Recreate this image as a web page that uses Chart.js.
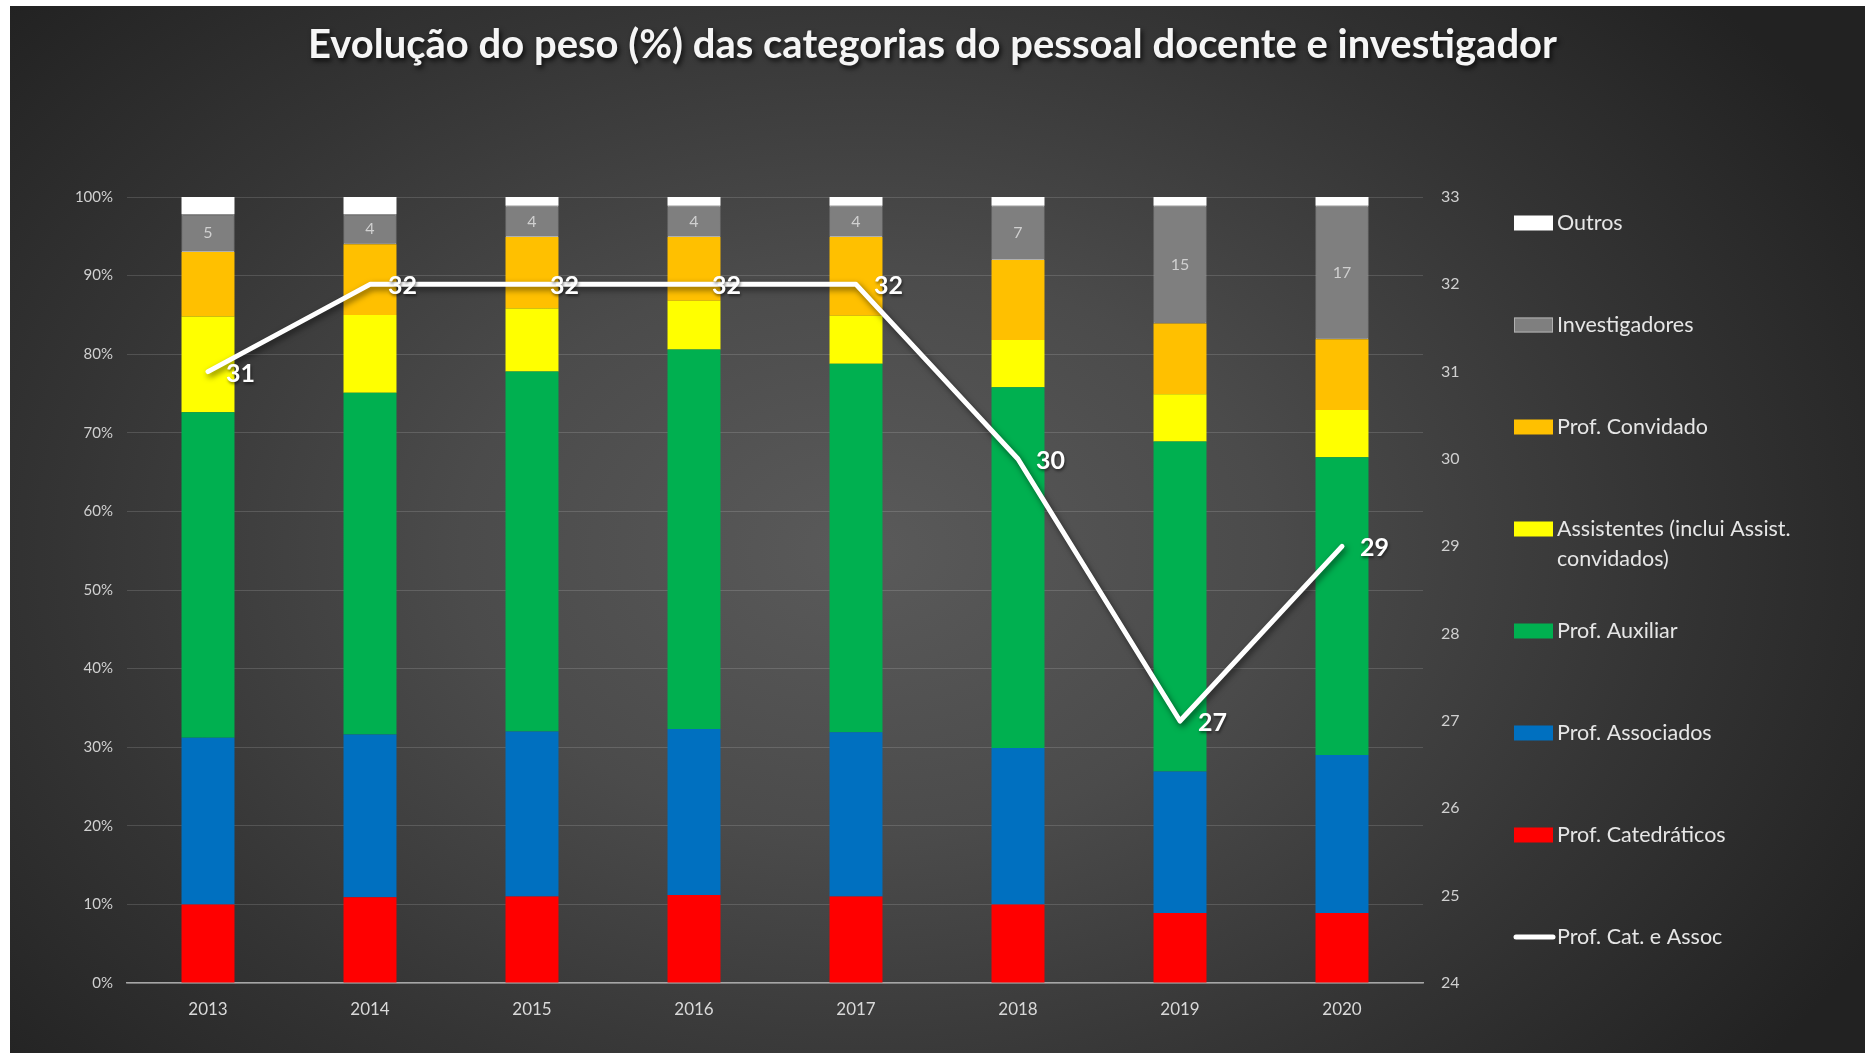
<!DOCTYPE html>
<html>
<head>
<meta charset="utf-8">
<script src="https://cdn.jsdelivr.net/npm/chart.js@4.4.1/dist/chart.umd.min.js"></script>
<style>
  html, body { margin: 0; padding: 0; background: #ffffff; width: 1865px; height: 1053px; overflow: hidden; }
  #bg { position: absolute; left: 10px; top: 6px; right: 0; bottom: 0;
        background: radial-gradient(ellipse 62% 78% at 46% 52%, #5a5a5a 0%, #4b4b4b 35%, #343434 70%, #222222 100%); }
  #wrap { position: absolute; left: 0; top: 0; width: 1865px; height: 1053px; }
</style>
</head>
<body>
<div id="bg"></div>
<div id="wrap"><canvas id="c"></canvas></div>
<script>
// ---- data ----
const years = ['2013', '2014', '2015', '2016', '2017', '2018', '2019', '2020'];
const catedraticos   = [10.0, 10.9, 11.0, 11.2, 11.0, 10.0, 8.9, 8.9];
const associados     = [21.2, 20.7, 21.0, 21.1, 20.9, 19.9, 18.0, 20.1];
const auxiliar       = [41.4, 43.5, 45.8, 48.3, 46.9, 45.9, 42.0, 37.9];
const assistentes    = [12.2, 9.9, 8.0, 6.2, 6.1, 6.0, 6.0, 6.0];
const convidado      = [8.2, 9.0, 9.1, 8.1, 10.0, 10.2, 9.0, 9.0];
const investigadores = [4.8, 3.8, 4.0, 4.0, 4.0, 6.9, 15.0, 17.0];
const outros         = [2.2, 2.2, 1.1, 1.1, 1.1, 1.1, 1.1, 1.1];
const catAssoc       = [31, 32, 32, 32, 32, 30, 27, 29];

const titleText = 'Evolução do peso (%) das categorias do pessoal docente e investigador';
const FONT = 'Lato, "Open Sans", sans-serif';

function bar(label, data, color, extra) {
  return Object.assign({ type: 'bar', label, data, backgroundColor: color, borderWidth: 0,
    stack: 's', order: 1, barPercentage: 0.327, categoryPercentage: 1.0, yAxisID: 'y' }, extra || {});
}

const datasets = [
  bar('Prof. Catedráticos', catedraticos, '#ff0000'),
  bar('Prof. Associados', associados, '#0070c0'),
  bar('Prof. Auxiliar', auxiliar, '#00b050'),
  bar('Assistentes (inclui Assist. convidados)', assistentes, '#ffff00'),
  bar('Prof. Convidado', convidado, '#ffc000'),
  bar('Investigadores', investigadores, '#7f7f7f', { borderColor: '#b0b0b0', borderWidth: 1, borderSkipped: false, valueLabels: true }),
  bar('Outros', outros, '#ffffff'),
  { type: 'line', label: 'Prof. Cat. e Assoc', data: catAssoc, yAxisID: 'y2', borderColor: '#ffffff',
    backgroundColor: '#ffffff', borderWidth: 5, pointRadius: 0, tension: 0, order: 0, stack: 'line',
    borderJoinStyle: 'round', borderCapStyle: 'round', lineLabels: true }
];

const titleShadowPlugin = {
  id: 'titleShadow',
  beforeDraw(chart) {
    const tb = chart.titleBlock;
    if (tb && !tb._shadowPatched) {
      const orig = tb.draw;
      tb.draw = function () {
        const c = this.ctx; c.save();
        c.shadowColor = 'rgba(0,0,0,0.75)'; c.shadowBlur = 5; c.shadowOffsetX = 2; c.shadowOffsetY = 3;
        orig.apply(this, arguments); c.restore();
      };
      tb._shadowPatched = true;
    }
  }
};

const labelsPlugin = {
  id: 'customLabels',
  beforeDatasetDraw(chart, args) {
    if (chart.data.datasets[args.index].type === 'line') {
      const c = chart.ctx; c.save();
      c.shadowColor = 'rgba(0,0,0,0.55)'; c.shadowBlur = 6; c.shadowOffsetX = 2; c.shadowOffsetY = 3;
    }
  },
  afterDatasetDraw(chart, args) {
    if (chart.data.datasets[args.index].type === 'line') chart.ctx.restore();
  },
  afterDatasetsDraw(chart) {
    const c = chart.ctx;
    chart.data.datasets.forEach((ds, di) => {
      const meta = chart.getDatasetMeta(di);
      if (ds.valueLabels) {
        c.save();
        c.font = '16px ' + FONT; c.fillStyle = '#d0d0d0'; c.textAlign = 'center'; c.textBaseline = 'middle';
        meta.data.forEach((el, i) => {
          const p = el.getProps(['x', 'y', 'base'], true);
          c.fillText(String(Math.round(ds.data[i])), p.x, (p.y + p.base) / 2);
        });
        c.restore();
      }
      if (ds.lineLabels) {
        c.save();
        c.font = 'bold 25px ' + FONT; c.fillStyle = '#ffffff'; c.textAlign = 'left'; c.textBaseline = 'middle';
        c.shadowColor = 'rgba(0,0,0,0.5)'; c.shadowBlur = 3; c.shadowOffsetX = 1; c.shadowOffsetY = 2;
        meta.data.forEach((el, i) => {
          const p = el.getProps(['x', 'y'], true);
          c.fillText(String(ds.data[i]), p.x + 18, p.y + 2);
        });
        c.restore();
      }
    });
  }
};

function wrapText(c, text, maxW) {
  const words = text.split(' '); const lines = []; let cur = '';
  words.forEach(w => {
    const t = cur ? cur + ' ' + w : w;
    if (c.measureText(t).width > maxW && cur) { lines.push(cur); cur = w; } else cur = t;
  });
  if (cur) lines.push(cur);
  return lines;
}

const legendPlugin = {
  id: 'sideLegend',
  afterDraw(chart) {
    const c = chart.ctx; const a = chart.chartArea;
    const bars = chart.data.datasets.filter(d => d.type === 'bar').slice().reverse();
    const lines = chart.data.datasets.filter(d => d.type === 'line');
    const items = bars.concat(lines);
    const boxX = a.right + 91, boxW = 39, boxH = 15, textX = boxX + boxW + 4;
    c.save();
    c.font = '21.5px ' + FONT; c.textBaseline = 'middle'; c.textAlign = 'left';
    items.forEach((ds, i) => {
      const y = a.top + 26 + i * 102;
      if (ds.type === 'line') {
        c.strokeStyle = ds.borderColor; c.lineWidth = 5; c.lineCap = 'round';
        c.beginPath(); c.moveTo(boxX + 2, y); c.lineTo(boxX + boxW, y); c.stroke();
      } else {
        c.fillStyle = ds.backgroundColor; c.fillRect(boxX, y - boxH / 2, boxW, boxH);
        if (ds.borderWidth) { c.strokeStyle = ds.borderColor; c.lineWidth = 1; c.strokeRect(boxX + 0.5, y - boxH / 2 + 0.5, boxW - 1, boxH - 1); }
      }
      c.fillStyle = '#e6e6e6';
      const ls = wrapText(c, ds.label, 270);
      ls.forEach((t, k) => c.fillText(t, textX, y + k * 30));
    });
    c.restore();
  }
};

new Chart(document.getElementById('c'), {
  data: { labels: years, datasets },
  plugins: [titleShadowPlugin, labelsPlugin, legendPlugin],
  options: {
    responsive: true, maintainAspectRatio: false, animation: false,
    layout: { padding: { left: 0, right: 0, top: 0, bottom: 0 } },
    plugins: {
      legend: { display: false },
      tooltip: { enabled: false },
      title: { display: true, text: titleText, color: '#f5f5f5',
        font: { family: FONT, size: 40, weight: 'bold' }, padding: { top: 21, bottom: 128 } }
    },
    scales: {
      x: { stacked: true,
        grid: { display: false, drawTicks: false },
        border: { color: '#a6a6a6', width: 1.5 },
        ticks: { color: '#d9d9d9', font: { family: FONT, size: 17 }, padding: 16 },
        afterFit: s => { s.height = 70; } },
      y: { stacked: true, min: 0, max: 100,
        grid: { color: 'rgba(255,255,255,0.14)', drawTicks: false },
        border: { display: false },
        ticks: { stepSize: 10, color: '#d0d0d0', font: { family: FONT, size: 15 }, padding: 14,
          callback: v => v + '%' },
        afterFit: s => { s.width = 127; } },
      y2: { position: 'right', min: 24, max: 33,
        grid: { display: false, drawTicks: false },
        border: { display: false },
        ticks: { stepSize: 1, color: '#d0d0d0', font: { family: FONT, size: 16 }, padding: 18 },
        afterFit: s => { s.width = 442; } }
    }
  }
});
</script>
</body>
</html>
